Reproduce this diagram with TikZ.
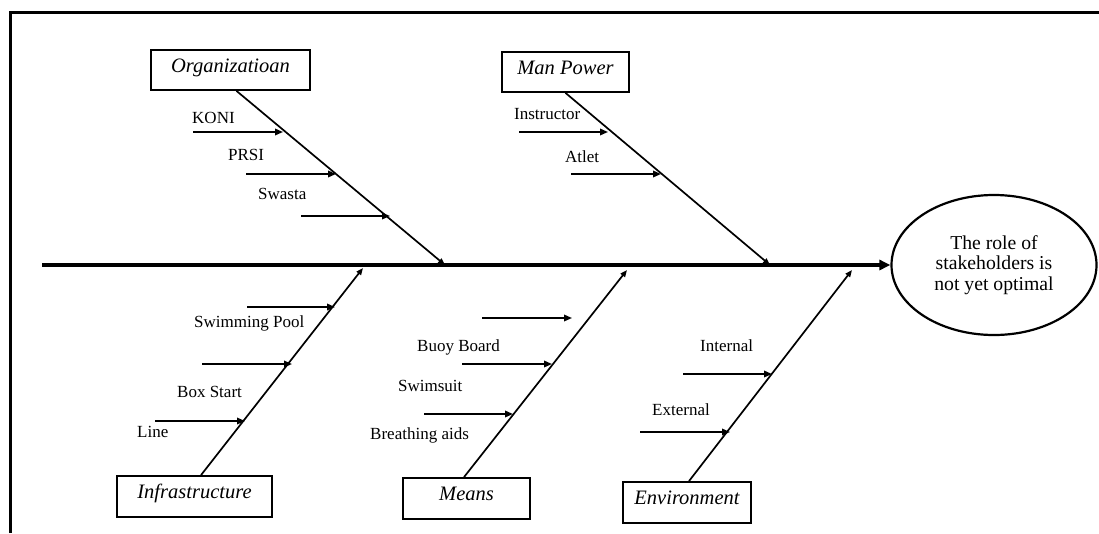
\documentclass[tikz,border=0pt]{standalone}
\usepackage{fontspec}
\setmainfont{Liberation Serif}
\usetikzlibrary{arrows.meta}
\usetikzlibrary{shapes.geometric}

\begin{document}
\begin{tikzpicture}[x=1pt,y=-1pt,
    cause/.style={draw,line width=1.8pt,inner sep=0pt,text height=15pt,text depth=11pt,
      font=\fontsize{20.5}{24}\selectfont\itshape},
    sublabel/.style={anchor=base west,inner sep=0pt,font=\fontsize{17}{20}\selectfont},
    bone/.style={line width=1.7pt,-{Triangle[length=7pt,width=5.5pt]}},
    sub/.style={line width=1.7pt,-{Triangle[length=8pt,width=6.5pt]}},
    spine/.style={line width=3.6pt,-{Triangle[length=11pt,width=10pt]}}]

      \useasboundingbox (0,0) rectangle (1099,533);

      % frame
      \draw [line width=3pt] (10,533) -- (10,12) -- (1099,12);

      % effect and cause boxes
      \node[draw,ellipse,line width=2.2pt,minimum width=205pt,minimum height=140pt,inner sep=0pt,
        align=center,font=\fontsize{19.7}{20.7}\selectfont] (effect) at (994,265)
        {The role of\\stakeholders is\\not yet optimal};

      \begin{scope}[every node/.style={cause}]
        \node[minimum width=159pt,minimum height=40pt] (org) at (230.5,70) {Organizatioan};
        \node[minimum width=127pt,minimum height=40pt] (man) at (565.5,72) {Man Power};
        \node[minimum width=155pt,minimum height=41pt] (infra) at (194.5,496.5) {Infrastructure};
        \node[minimum width=127pt,minimum height=41pt] (means) at (466.5,498.5) {Means};
        \node[minimum width=128pt,minimum height=41pt] (env) at (687,502.5) {Environment};
      \end{scope}

      % sub causes
      \begin{scope}[every node/.style={sublabel}]
        \node (koni) at (192,123) {KONI};
        \node (prsi) at (228,160) {PRSI};
        \node (swasta) at (258,199) {Swasta};

        \node (instr) at (514,119) {Instructor};
        \node (atlet) at (565,162) {Atlet};

        \node (pool) at (194,327) {Swimming Pool};
        \node (boxstart) at (177,397) {Box Start};
        \node (line) at (137,437) {Line};

        \node (buoy) at (417,351) {Buoy Board};
        \node (suit) at (398,391) {Swimsuit};
        \node (breath) at (370,439) {Breathing aids};

        \node (internal) at (700,351) {Internal};
        \node (external) at (652,415) {External};
      \end{scope}

      % points on the spine
      \coordinate (spine_s) at (42,265);
      \coordinate (org_j) at (445,265);
      \coordinate (man_j) at (770,265);
      \coordinate (infra_j) at (363,268);
      \coordinate (means_j) at (627,270);
      \coordinate (env_j) at (852,270);

      % arrow ends of the sub causes
      \coordinate (koni_s) at (193,132);   \coordinate (koni_e) at (283,132);
      \coordinate (prsi_s) at (246,174);   \coordinate (prsi_e) at (336,174);
      \coordinate (swasta_s) at (301,216); \coordinate (swasta_e) at (390,216);
      \coordinate (instr_s) at (519,132);  \coordinate (instr_e) at (608,132);
      \coordinate (atlet_s) at (571,174);  \coordinate (atlet_e) at (661,174);
      \coordinate (pool_s) at (247,307);   \coordinate (pool_e) at (335,307);
      \coordinate (boxstart_s) at (202,364); \coordinate (boxstart_e) at (292,364);
      \coordinate (line_s) at (155,421);   \coordinate (line_e) at (245,421);
      \coordinate (buoy_s) at (482,318);   \coordinate (buoy_e) at (572,318);
      \coordinate (suit_s) at (462,364);   \coordinate (suit_e) at (552,364);
      \coordinate (breath_s) at (424,414); \coordinate (breath_e) at (513,414);
      \coordinate (internal_s) at (683,374); \coordinate (internal_e) at (772,374);
      \coordinate (external_s) at (640,432); \coordinate (external_e) at (730,432);

      \draw [spine] (spine_s) -- (effect.west);

      \draw [bone] ([xshift=6pt]org.south) -- (org_j);
      \draw [bone] (man.south) -- (man_j);
      \draw [bone] ([xshift=6.5pt]infra.north) -- (infra_j);
      \draw [bone] ([xshift=-2.5pt]means.north) -- (means_j);
      \draw [bone] ([xshift=2pt]env.north) -- (env_j);

      \draw [sub] (koni_s) -- (koni_e);
      \draw [sub] (prsi_s) -- (prsi_e);
      \draw [sub] (swasta_s) -- (swasta_e);
      \draw [sub] (instr_s) -- (instr_e);
      \draw [sub] (atlet_s) -- (atlet_e);
      \draw [sub] (pool_s) -- (pool_e);
      \draw [sub] (boxstart_s) -- (boxstart_e);
      \draw [sub] (line_s) -- (line_e);
      \draw [sub] (buoy_s) -- (buoy_e);
      \draw [sub] (suit_s) -- (suit_e);
      \draw [sub] (breath_s) -- (breath_e);
      \draw [sub] (internal_s) -- (internal_e);
      \draw [sub] (external_s) -- (external_e);
    \end{tikzpicture}
\end{document}
